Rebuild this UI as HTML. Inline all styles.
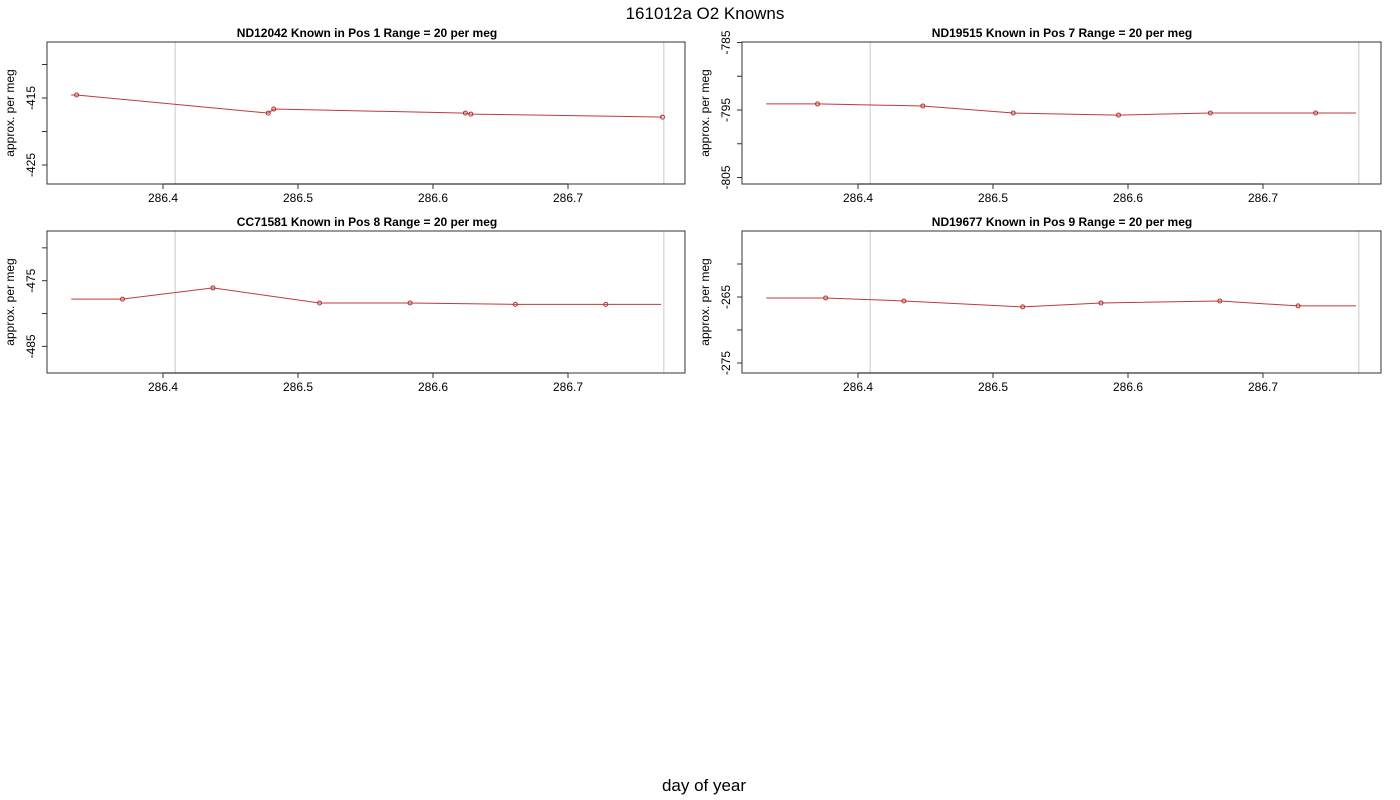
<!DOCTYPE html>
<html><head><meta charset="utf-8"><style>
body{margin:0;background:#fff;}
svg{display:block;font-family:"Liberation Sans",sans-serif;}
</style></head><body>
<svg width="1400" height="800" id="svg">
<text x="705" y="19" text-anchor="middle" font-size="17">161012a   O2 Knowns</text>
<text x="704" y="791" text-anchor="middle" font-size="17">day of year</text>
</svg>
<script>
const xTicks=[286.4,286.5,286.6,286.7];
const vlines=[286.409,286.771];
const titles=["ND12042    Known in Pos 1          Range = 20 per meg","ND19515    Known in Pos 7          Range = 20 per meg","CC71581    Known in Pos 8          Range = 20 per meg","ND19677    Known in Pos 9          Range = 20 per meg"];
const p1x=[286.336,286.478,286.482,286.624,286.628,286.770];
const p1y=[-414.55,-417.25,-416.65,-417.25,-417.4,-417.85];
const p2x=[286.370,286.448,286.515,286.593,286.661,286.739];
const p2y=[-794.1,-794.4,-795.45,-795.75,-795.45,-795.45];
const p3x=[286.370,286.437,286.516,286.583,286.661,286.728];
const p3y=[-477.8,-476.1,-478.4,-478.4,-478.6,-478.6];
const p4x=[286.376,286.434,286.522,286.580,286.668,286.726];
const p4y=[-265.15,-265.6,-266.5,-265.9,-265.6,-266.35];
const yTicks1=[-410,-415,-420,-425], yLab1=[-415,-425];
const yTicks2=[-785,-790,-795,-800,-805], yLab2=[-785,-795,-805];
const yTicks3=[-470,-475,-480,-485], yLab3=[-475,-485];
const yTicks4=[-260,-265,-270,-275], yLab4=[-265,-275];
const xStart=286.332, xEnd=286.769;
const NS="http://www.w3.org/2000/svg";
const svg=document.getElementById('svg');
function mk(t,a,parent){const e=document.createElementNS(NS,t);for(const k in a)e.setAttribute(k,a[k]);(parent||svg).appendChild(e);return e;}
// panel geometry: box, x mapping (px of 286.4, px per 0.1), y mapping (ref value, ref px, px per unit)
const panels=[
 {L:47,R:685,T:42,B:184,x0:163,yr:-415,ypx:98,ys:6.7,xs:p1x,ysr:p1y,tk:yTicks1,lb:yLab1},
 {L:742,R:1381,T:42,B:184,x0:858,yr:-795,ypx:110,ys:6.75,xs:p2x,ysr:p2y,tk:yTicks2,lb:yLab2},
 {L:47,R:685,T:231,B:373,x0:163,yr:-475,ypx:280.7,ys:6.57,xs:p3x,ysr:p3y,tk:yTicks3,lb:yLab3},
 {L:742,R:1381,T:231,B:373,x0:858,yr:-265,ypx:297,ys:6.6,xs:p4x,ysr:p4y,tk:yTicks4,lb:yLab4}
];
panels.forEach((p,i)=>{
 const g=mk('g',{});
 
 
 const X=v=>p.x0+(v-286.4)*1350;
 const Y=v=>p.ypx-(v-p.yr)*p.ys;
 vlines.forEach(v=>{const l=mk('line',{x1:X(v),x2:X(v),y1:p.T,y2:p.B,stroke:'#c8c8c8','stroke-width':1},g);
  
  });
 const box=mk('rect',{x:p.L,y:p.T,width:p.R-p.L,height:p.B-p.T,fill:'none',stroke:'#333','stroke-width':1},g);
 
 
 const t=mk('text',{x:367+(i%2)*695,y:p.T-5,'text-anchor':'middle','font-size':12,'font-weight':'bold','xml:space':'preserve'},g);
 t.textContent=titles[i];
 
 
 // x axis
 mk('line',{x1:X(xTicks[0]),x2:X(xTicks[xTicks.length-1]),y1:p.B,y2:p.B,stroke:'#000'},g);
 xTicks.forEach(v=>{mk('line',{x1:X(v),x2:X(v),y1:p.B,y2:p.B+5,stroke:'#333'},g);
  const tx=mk('text',{x:X(v),y:p.B+18,'text-anchor':'middle','font-size':12},g);tx.textContent=v.toFixed(1);
  
  });
 // y axis
 p.tk.forEach(v=>{mk('line',{x1:p.L-5,x2:p.L,y1:Y(v),y2:Y(v),stroke:'#333'},g);});
 p.lb.forEach(v=>{const tx=mk('text',{x:0,y:0,'text-anchor':'middle','font-size':12,transform:`translate(${p.L-12},${Y(v)}) rotate(-90)`},g);tx.textContent=v;
  
  });
 const yt=mk('text',{x:0,y:0,'text-anchor':'middle','font-size':12,transform:`translate(${p.L-33},${(p.T+p.B)/2}) rotate(-90)`},g);
 yt.textContent='approx. per meg';
 
 
 // series
 const n=p.xs.length;
 const pts=[[X(xStart),Y(p.ysr[0])]].concat(p.xs.map((x,k)=>[X(x),Y(p.ysr[k])]));
 if(X(xEnd)>X(p.xs[n-1])+1)pts.push([X(xEnd),Y(p.ysr[n-1])]);
 const pl=mk('polyline',{points:pts.map(q=>q.join(',')).join(' '),fill:'none',stroke:'#c03a3a','stroke-width':1},g);
 
 
 p.xs.forEach((x,k)=>{const c=mk('circle',{cx:X(x),cy:Y(p.ysr[k]),r:2,fill:'none',stroke:'#b03030','stroke-width':1},g);
  
  });
});
</script>
</body></html>
